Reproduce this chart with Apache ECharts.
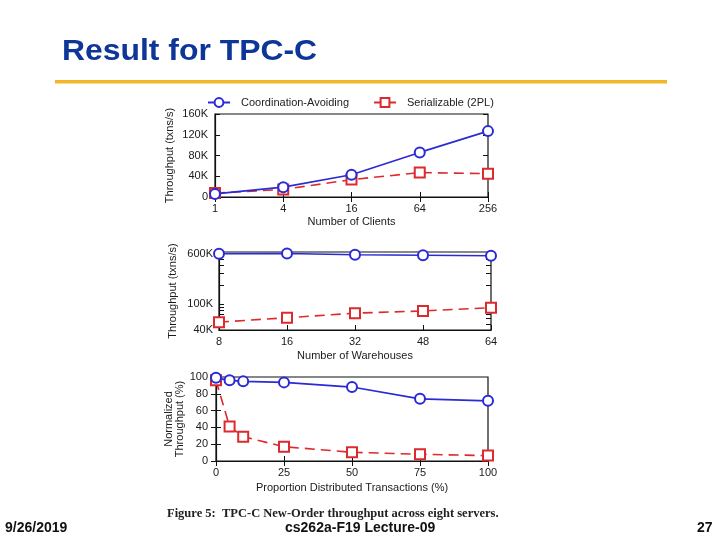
<!DOCTYPE html>
<html>
<head>
<meta charset="utf-8">
<script src="https://cdn.jsdelivr.net/npm/echarts@6/dist/echarts.min.js"></script>
<style>html,body{margin:0;padding:0;background:#fff}#c{width:720px;height:540px}</style>
</head>
<body>
<div id="c"></div>
<script>
// ---- data ----
const clients = [1, 4, 16, 64, 256];
const caClients = [6000, 19000, 43000, 86000, 127000];
const serClients = [7500, 14500, 33500, 47000, 45000];

const warehouses = ['8', '16', '32', '48', '64'];
const caWarehouses = [612000, 615000, 590000, 578000, 568000];
const serWarehouses = [53000, 62000, 73000, 79000, 89000];

const distPct = [0, 5, 10, 25, 50, 75, 100];
const caDist = [99, 96, 94.8, 93.6, 88, 74, 71.6];
const serDist = [96, 41, 29, 17, 10.4, 8, 6.4];

const clientTicks = [1, 4, 16, 64, 256];
const warehouseYLabels = [40000, 100000, 600000];
const warehouseYTicks = [40000, 50000, 60000, 70000, 80000, 90000, 100000, 200000, 300000, 400000, 500000, 600000];

const seriesNames = ['Coordination-Avoiding', 'Serializable (2PL)'];

// ---- styles ----
const BLUE = '#2a2ad6';
const RED = '#dc2a2e';
const FONT = 'Liberation Sans, Arial, sans-serif';
const kFmt = v => v === 0 ? '0' : (v / 1000) + 'K';

function zip(xs, ys) { return xs.map((x, i) => [x, ys[i]]); }

const lbl = { color: '#1a1a1a', fontSize: 11, fontFamily: FONT };
const axLine = { show: true, lineStyle: { color: '#111', width: 1.2 } };
const tick = { show: true, inside: true, length: 5, lineStyle: { color: '#111', width: 1 } };
const nameStyle = { color: '#1a1a1a', fontSize: 11, fontFamily: FONT };

function caSeries(xi, yi, data) {
  return {
    name: seriesNames[0], type: 'line', xAxisIndex: xi, yAxisIndex: yi, data: data,
    symbol: 'emptyCircle', symbolSize: 10,
    lineStyle: { color: BLUE, width: 1.6 },
    itemStyle: { color: BLUE, borderColor: BLUE, borderWidth: 1.5 },
    animation: false, clip: true, z: 3
  };
}
function serSeries(xi, yi, data) {
  return {
    name: seriesNames[1], type: 'line', xAxisIndex: xi, yAxisIndex: yi, data: data,
    symbol: 'emptyRect', symbolSize: 10,
    lineStyle: { color: RED, width: 1.6, type: [10, 6] },
    itemStyle: { color: RED, borderColor: RED, borderWidth: 1.5 },
    animation: false, clip: true, z: 2
  };
}

const chart = echarts.init(document.getElementById('c'));
const option = {
  animation: false,
  legend: [
    { data: [seriesNames[0]], left: 202, top: 92, itemWidth: 22, itemHeight: 11, itemGap: 0,
      textStyle: { color: '#222', fontSize: 11, fontFamily: FONT, padding: [0, 0, 0, 6] } },
    { data: [seriesNames[1]], left: 368, top: 92, itemWidth: 22, itemHeight: 11, itemGap: 0,
      textStyle: { color: '#222', fontSize: 11, fontFamily: FONT, padding: [0, 0, 0, 6] } }
  ],
  grid: [
    { left: 215, top: 114, width: 273, height: 83, show: true, borderColor: '#111', borderWidth: 1.2 },
    { left: 219, top: 252, width: 272, height: 78, show: true, borderColor: '#111', borderWidth: 1.2 },
    { left: 216, top: 377, width: 272, height: 84, show: true, borderColor: '#111', borderWidth: 1.2 }
  ],
  xAxis: [
    // top chart
    { gridIndex: 0, type: 'log', logBase: 2, min: 1, max: 256, position: 'bottom',
      axisLine: axLine, splitLine: { show: false }, minorTick: { show: false },
      axisTick: Object.assign({}, tick, { customValues: clientTicks }),
      axisLabel: Object.assign({}, lbl, { margin: 6, customValues: clientTicks }),
      name: 'Number of Clients', nameLocation: 'middle', nameGap: 19, nameTextStyle: nameStyle },
    { gridIndex: 0, type: 'log', logBase: 2, min: 1, max: 256, position: 'top',
      axisLine: { show: false }, splitLine: { show: false },
      axisTick: Object.assign({}, tick, { customValues: clientTicks }),
      axisLabel: { show: false } },
    // middle chart
    { gridIndex: 1, type: 'category', data: warehouses, boundaryGap: false, position: 'bottom',
      axisLine: axLine, splitLine: { show: false },
      axisTick: Object.assign({}, tick, { alignWithLabel: true }),
      axisLabel: Object.assign({}, lbl, { margin: 6 }),
      name: 'Number of Warehouses', nameLocation: 'middle', nameGap: 20, nameTextStyle: nameStyle },
    { gridIndex: 1, type: 'category', data: warehouses, boundaryGap: false, position: 'top',
      axisLine: { show: false }, splitLine: { show: false },
      axisTick: tick, axisLabel: { show: false } },
    // bottom chart
    { gridIndex: 2, type: 'value', min: 0, max: 100, interval: 25, position: 'bottom',
      axisLine: axLine, splitLine: { show: false }, axisTick: tick,
      axisLabel: Object.assign({}, lbl, { margin: 6 }),
      name: 'Proportion Distributed Transactions (%)', nameLocation: 'middle', nameGap: 21, nameTextStyle: nameStyle },
    { gridIndex: 2, type: 'value', min: 0, max: 100, interval: 25, position: 'top',
      axisLine: { show: false }, splitLine: { show: false }, axisTick: tick, axisLabel: { show: false } }
  ],
  yAxis: [
    // top chart
    { gridIndex: 0, type: 'value', min: 0, max: 160000, interval: 40000, position: 'left',
      axisLine: axLine, splitLine: { show: false }, axisTick: tick,
      axisLabel: Object.assign({}, lbl, { margin: 7, formatter: kFmt }),
      name: 'Throughput (txns/s)', nameLocation: 'middle', nameGap: 40, nameTextStyle: nameStyle },
    { gridIndex: 0, type: 'value', min: 0, max: 160000, interval: 40000, position: 'right',
      axisLine: { show: false }, splitLine: { show: false }, axisTick: tick, axisLabel: { show: false } },
    // middle chart
    { gridIndex: 1, type: 'log', logBase: 10, min: 40000, max: 650000, position: 'left',
      axisLine: axLine, splitLine: { show: false }, minorTick: { show: false },
      axisTick: Object.assign({}, tick, { customValues: warehouseYTicks }),
      axisLabel: Object.assign({}, lbl, { margin: 6, formatter: kFmt, customValues: warehouseYLabels }),
      name: 'Throughput (txns/s)', nameLocation: 'middle', nameGap: 41, nameTextStyle: nameStyle },
    { gridIndex: 1, type: 'log', logBase: 10, min: 40000, max: 650000, position: 'right',
      axisLine: { show: false }, splitLine: { show: false }, minorTick: { show: false },
      axisTick: Object.assign({}, tick, { customValues: warehouseYTicks }),
      axisLabel: { show: false, customValues: warehouseYLabels } },
    // bottom chart
    { gridIndex: 2, type: 'value', min: 0, max: 100, interval: 20, position: 'left',
      axisLine: axLine, splitLine: { show: false }, axisTick: tick,
      axisLabel: Object.assign({}, lbl, { margin: 8 }),
      name: 'Normalized\nThroughput (%)', nameLocation: 'middle', nameGap: 29,
      nameTextStyle: Object.assign({}, nameStyle, { lineHeight: 11 }) },
    { gridIndex: 2, type: 'value', min: 0, max: 100, interval: 20, position: 'right',
      axisLine: { show: false }, splitLine: { show: false }, axisTick: tick, axisLabel: { show: false } }
  ],
  series: [
    caSeries(0, 0, zip(clients, caClients)),
    serSeries(0, 0, zip(clients, serClients)),
    caSeries(2, 2, caWarehouses),
    serSeries(2, 2, serWarehouses),
    caSeries(4, 4, zip(distPct, caDist)),
    serSeries(4, 4, zip(distPct, serDist))
  ],
  graphic: [
    { type: 'text', x: 62, y: 37, scaleX: 1.063, silent: true,
      style: { text: 'Result for TPC-C', fill: '#0e3698', font: 'bold 30px ' + FONT } },
    { type: 'rect', shape: { x: 55, y: 80, width: 612, height: 3.5 }, silent: true,
      style: { fill: '#f1b62a' } },
    { type: 'text', left: 167, top: 507, silent: true,
      style: { text: 'Figure 5:  TPC-C New-Order throughput across eight servers.', fill: '#222',
               font: 'bold 12.5px Liberation Serif, Times New Roman, serif' } },
    { type: 'text', left: 5, top: 521, silent: true,
      style: { text: '9/26/2019', fill: '#111', font: 'bold 14px ' + FONT } },
    { type: 'text', left: 285, top: 521, silent: true,
      style: { text: 'cs262a-F19 Lecture-09', fill: '#111', font: 'bold 14px ' + FONT } },
    { type: 'text', left: 697, top: 521, silent: true,
      style: { text: '27', fill: '#111', font: 'bold 14px ' + FONT } }
  ]
};
chart.setOption(option);
</script>
</body>
</html>
